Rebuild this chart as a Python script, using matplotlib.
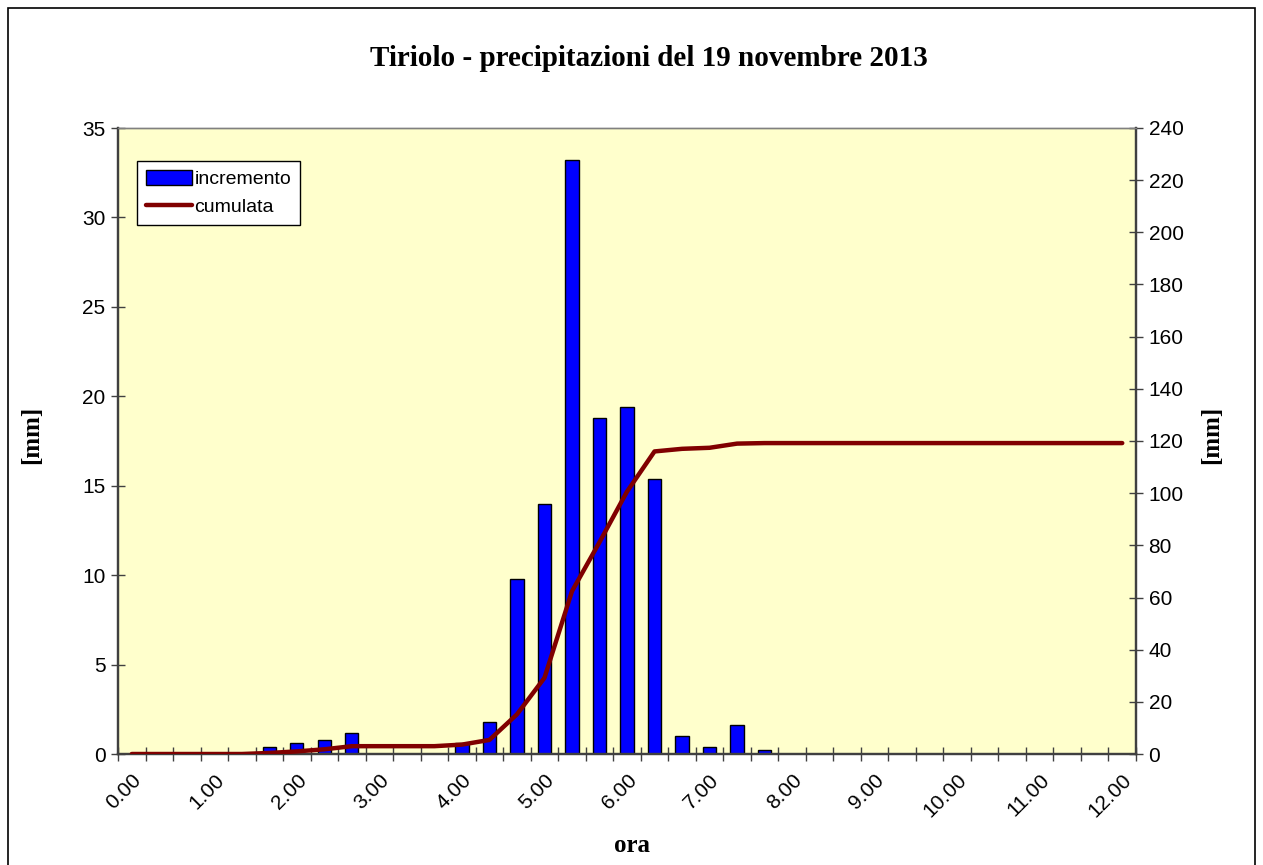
import matplotlib
matplotlib.use("Agg")
import matplotlib.pyplot as plt
import matplotlib.patches as mpatches
from matplotlib.ticker import FixedLocator, NullFormatter

# ------------------------------------------------------------------
# Data (20-minute steps, 0.00 -> 12.00)
# ------------------------------------------------------------------
ora = ["0.00", "0.20", "0.40", "1.00", "1.20", "1.40", "2.00", "2.20", "2.40",
       "3.00", "3.20", "3.40", "4.00", "4.20", "4.40", "5.00", "5.20", "5.40",
       "6.00", "6.20", "6.40", "7.00", "7.20", "7.40", "8.00", "8.20", "8.40",
       "9.00", "9.20", "9.40", "10.00", "10.20", "10.40", "11.00", "11.20",
       "11.40", "12.00"]

incremento = [0, 0, 0, 0, 0, 0.4, 0.6, 0.8, 1.2, 0, 0, 0, 0.6, 1.8, 9.8, 14.0,
              33.2, 18.8, 19.4, 15.4, 1.0, 0.4, 1.6, 0.2, 0, 0, 0, 0, 0, 0, 0,
              0, 0, 0, 0, 0, 0]

cumulata = [0, 0, 0, 0, 0, 0.4, 1.0, 1.8, 3.0, 3.0, 3.0, 3.0, 3.6, 5.4, 15.2,
            29.2, 62.4, 81.2, 100.6, 116.0, 117.0, 117.4, 119.0, 119.2, 119.2,
            119.2, 119.2, 119.2, 119.2, 119.2, 119.2, 119.2, 119.2, 119.2,
            119.2, 119.2, 119.2]

sx_ticks = [0, 5, 10, 15, 20, 25, 30, 35]
dx_ticks = [0, 20, 40, 60, 80, 100, 120, 140, 160, 180, 200, 220, 240]

# ------------------------------------------------------------------
W, H = 1263, 865
fig = plt.figure(figsize=(W / 100, H / 100), dpi=100)
fig.patch.set_facecolor("white")

# outer chart border
fig.add_artist(mpatches.Rectangle((8 / W, -0.02), (1255 - 8) / W, 0.02 + 1 - 8 / H,
                                  transform=fig.transFigure, fill=False,
                                  edgecolor="black", linewidth=1.2))

ax = fig.add_axes([118 / W, 1 - 754 / H, (1136 - 118) / W, (754 - 128) / H])
ax.set_facecolor("#FFFFCC")
ax2 = ax.twinx()

x = list(range(len(ora)))
bars = ax.bar(x, incremento, width=0.48, color="#0000FF", edgecolor="black",
              linewidth=1.0, zorder=2, label="incremento")
line, = ax2.plot(x, cumulata, color="#800000", linewidth=3.2, zorder=3,
                 solid_capstyle="round", label="cumulata")

ax.set_xlim(-0.5, len(ora) - 0.5)
ax.set_ylim(0, 35)
ax2.set_ylim(0, 240)

tick_font = dict(family="Liberation Sans", size=15)

ax.set_yticks(sx_ticks)
ax.set_yticklabels([str(v) for v in sx_ticks], fontdict=tick_font)
ax2.set_yticks(dx_ticks)
ax2.set_yticklabels([str(v) for v in dx_ticks], fontdict=tick_font)

# x: labels every 3rd category, tick marks between categories
lab_idx = list(range(0, len(ora), 3))
ax.set_xticks(lab_idx)
ax.set_xticklabels([ora[i] for i in lab_idx], rotation=45, ha="right", va="top",
                   rotation_mode="anchor", fontdict=tick_font)
ax.xaxis.set_minor_locator(FixedLocator([i - 0.5 for i in range(len(ora) + 1)]))
ax.xaxis.set_minor_formatter(NullFormatter())
ax.tick_params(axis="x", which="major", length=0, pad=12)
ax.tick_params(axis="x", which="minor", direction="inout", length=10,
               width=1.0, color="#404040")
ax.tick_params(axis="y", direction="inout", length=10, width=1.0,
               color="#404040", pad=4)
ax2.tick_params(axis="y", direction="inout", length=10, width=1.0,
                color="#404040", pad=4)

for a in (ax, ax2):
    a.spines["top"].set_color("#808080")
    a.spines["top"].set_linewidth(1.0)
    for s in ("left", "right", "bottom"):
        a.spines[s].set_color("#404040")
        a.spines[s].set_linewidth(1.6)

serif_bold = dict(family="Liberation Serif", weight="bold")
fig.text(649 / W, 1 - 58 / H, "Tiriolo - precipitazioni del 19 novembre 2013",
         ha="center", va="center", fontsize=21, **serif_bold)
fig.text(632 / W, 1 - 845 / H, "ora", ha="center", va="center",
         fontsize=18, **serif_bold)
fig.text(32 / W, 1 - 435 / H, "[mm]", ha="center", va="center", rotation=90,
         fontsize=18, **serif_bold)
fig.text(1212 / W, 1 - 435 / H, "[mm]", ha="center", va="center", rotation=90,
         fontsize=18, **serif_bold)

leg = ax2.legend([bars, line], ["incremento", "cumulata"], loc="upper left",
                 bbox_to_anchor=((137 - 118) / 1018, (754 - 161) / 626),
                 borderaxespad=0, fancybox=False, framealpha=1,
                 edgecolor="black", prop=dict(family="Liberation Sans", size=14),
                 handlelength=2.4, handleheight=0.8, handletextpad=0.1,
                 labelspacing=0.5, borderpad=0.45)
leg.get_frame().set_linewidth(1.0)

fig.savefig("out.png", dpi=100)
